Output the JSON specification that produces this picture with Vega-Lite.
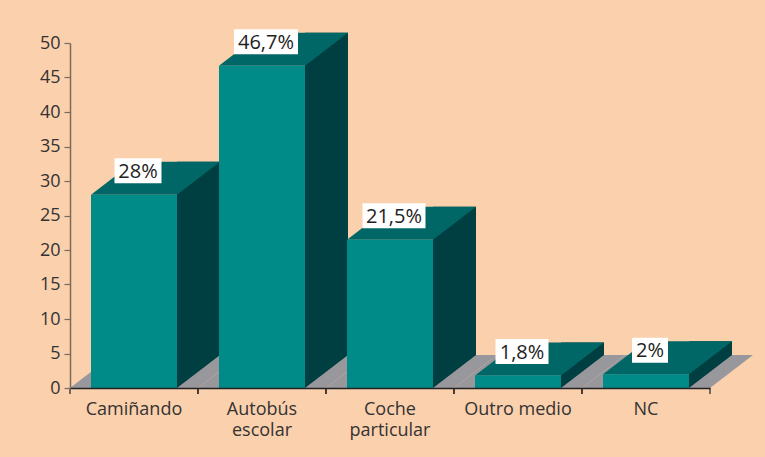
{
  "$schema": "https://vega.github.io/schema/vega-lite/v6.json",
  "width": 640,
  "height": 345,
  "autosize": {"type": "none"},
  "padding": {"left": 70, "top": 43, "right": 55, "bottom": 69},
  "background": "#FBD0AD",
  "config": {
    "view": {"stroke": null},
    "font": "Open Sans"
  },
  "data": {"values": [
    {"cat": "Camiñando", "v": 28, "label": "28%"},
    {"cat": "Autobús escolar", "v": 46.7, "label": "46,7%"},
    {"cat": "Coche particular", "v": 21.5, "label": "21,5%"},
    {"cat": "Outro medio", "v": 1.8, "label": "1,8%"},
    {"cat": "NC", "v": 2, "label": "2%"}
  ]},
  "encoding": {
    "x": {
      "field": "cat", "type": "nominal", "sort": null,
      "scale": {"paddingInner": 0.328125, "paddingOuter": 0.164},
      "axis": {
        "title": null, "labelAngle": 0, "ticks": false, "zindex": 1,
        "labelExpr": "datum.label == 'Outro medio' ? datum.label : split(datum.label, ' ')",
        "labelFontSize": 18, "labelColor": "#333333", "labelLineHeight": 21,
        "labelPadding": 12, "labelBaseline": "top",
        "domainColor": "#222222", "domainWidth": 1.5
      }
    },
    "y": {"field": "v", "type": "quantitative",
      "scale": {"domain": [0, 50], "nice": false},
      "axis": {"title": null, "values": [0, 5, 10, 15, 20, 25, 30, 35, 40, 45, 50], "grid": false, "zindex": 1,
        "labelFontSize": 18, "labelColor": "#333333", "labelPadding": 4, "tickSize": 6, "labelOverlap": false,
        "tickColor": "#7b6b5e", "domainColor": "#7b6b5e", "domainWidth": 1.5, "tickWidth": 1.2}}
  },
  "layer": [
    {
      "mark": {"type": "point", "shape": "M-64,0L64,0L107,-33L-21,-33Z", "size": 4, "filled": true, "color": "#98989C", "opacity": 1, "strokeWidth": 0},
      "encoding": {"y": {"datum": 0, "type": "quantitative"}}
    },
    {
      "mark": {"type": "point", "shape": "M-64,0L-64,6M64,0L64,6", "size": 4, "filled": false, "color": "#222222", "opacity": 1, "strokeWidth": 1.2},
      "encoding": {"y": {"datum": 0, "type": "quantitative"}}
    },
    {
      "mark": {"type": "bar", "width": 43, "xOffset": 64.5, "yOffset": -33, "y2Offset": -33, "color": "#003F41"},
      "encoding": {"y2": {"datum": 0}}
    },
    {
      "mark": {"type": "point", "shape": "M43,-33L43,0L86,-33Z", "size": 4, "filled": true, "color": "#003F41", "opacity": 1, "strokeWidth": 0},
      "encoding": {"y": {"datum": 0, "type": "quantitative"}}
    },
    {
      "mark": {"type": "point", "shape": "M-43,0L43,0L86,-33L0,-33Z", "size": 4, "filled": true, "color": "#006766", "opacity": 1, "strokeWidth": 0}
    },
    {
      "mark": {"type": "bar", "color": "#008B89"},
      "encoding": {"y2": {"datum": 0}}
    },
    {
      "mark": {"type": "point", "size": 4, "filled": true, "color": "#FFFFFF", "opacity": 1, "strokeWidth": 0, "xOffset": 4, "yOffset": -24},
      "encoding": {
        "shape": {
          "field": "label", "type": "nominal", "legend": null,
          "scale": {
            "domain": ["28%", "46,7%", "21,5%", "1,8%", "2%"],
            "range": [
              "M-23.5,-12.5H23.5V12.5H-23.5Z",
              "M-32,-12.5H32V12.5H-32Z",
              "M-31.5,-12.5H31.5V12.5H-31.5Z",
              "M-26.5,-12.5H26.5V12.5H-26.5Z",
              "M-18,-12.5H18V12.5H-18Z"
            ]
          }
        }
      }
    },
    {
      "mark": {"type": "text", "fontSize": 20, "fontWeight": 500, "color": "#222222", "baseline": "middle", "align": "center", "xOffset": 4, "yOffset": -23},
      "encoding": {"text": {"field": "label"}}
    }
  ]
}
